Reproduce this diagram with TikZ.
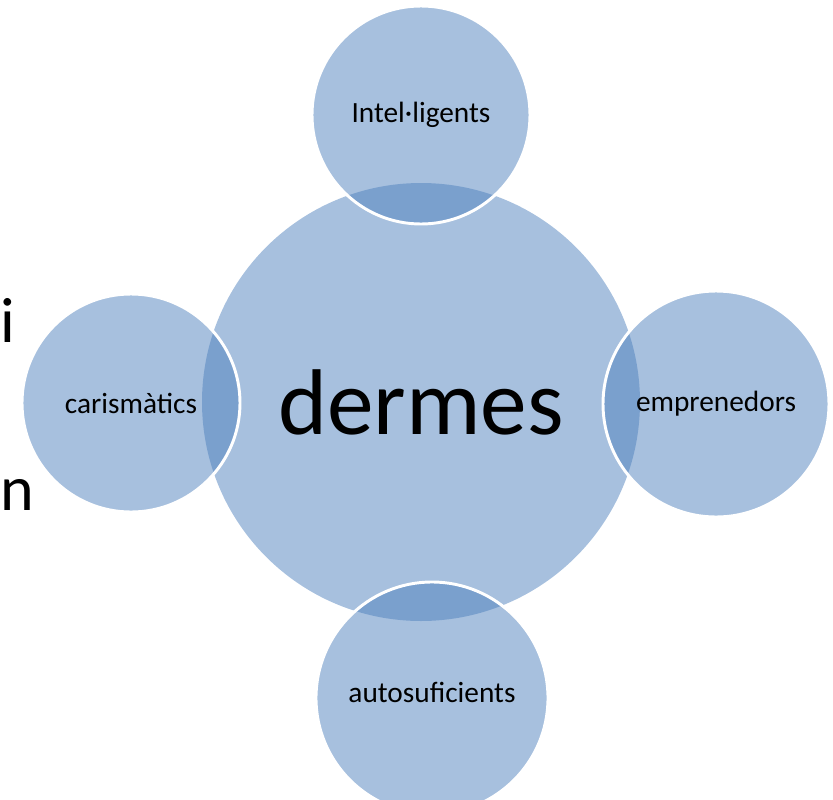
\documentclass[tikz,border=0pt]{standalone}
\usepackage{fontspec}
\setmainfont{Carlito}
\definecolor{accent}{HTML}{4F81BD}

\begin{document}
\begin{tikzpicture}[x=0.75pt,y=-0.75pt,
   bubble/.style={circle,inner sep=0pt,fill=accent,fill opacity=.5,
      text opacity=1,font=\fontsize{22}{26}\selectfont},
   petal/.style={bubble,draw=white,draw opacity=1,line width=2.2pt},
   margin/.style={anchor=base west,inner sep=0pt,font=\fontsize{48}{56}\selectfont}]
\useasboundingbox (0,0) rectangle (833,800);
% slide text behind the diagram
\node[margin] (restI) at (0.5,342) {i};
\node[margin] (restN) at (0.5,510) {n};
% centre and the four petals
\node[bubble,minimum size=438*0.75pt,font=\fontsize{70}{80}\selectfont] (dermes) at (421,402) {dermes};
\node[petal,minimum size=218*0.75pt] (intel) at (421,115) {Intel·ligents};
\node[petal,minimum size=218*0.75pt] (caris) at (131,403) {carismàtics};
\node[petal,minimum size=226*0.75pt] (empren) at (716,404) {emprenedors};
\node[petal,minimum size=232*0.75pt,text depth=9pt] (autosuf) at (432,698) {autosuficients};
\end{tikzpicture}
\end{document}
